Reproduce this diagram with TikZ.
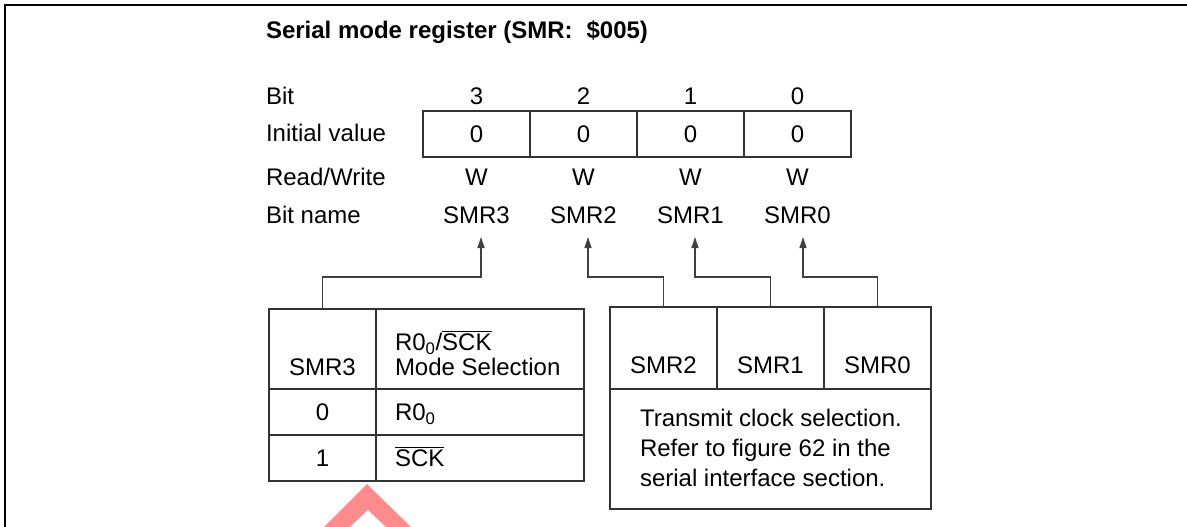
\documentclass[tikz,border=0pt]{standalone}
\usepackage{fontspec}
\setmainfont{Liberation Sans}
\usetikzlibrary{arrows.meta}
\newcommand{\ovl}[1]{\leavevmode\vbox{\hrule height 1pt\kern 1.8pt\hbox{#1}}}
\begin{document}
\begin{tikzpicture}[x=1pt,y=-1pt,
  txt/.style={inner sep=0pt, outer sep=0pt, font=\fontsize{24}{28}\selectfont},
  lbl/.style={txt, anchor=base west},
  ctr/.style={txt, anchor=base},
  cell/.style={draw=black!80, line width=1.3pt, inner sep=0pt, outer sep=0pt, font=\fontsize{24}{28}\selectfont},
  conn/.style={draw=black!75, line width=1.3pt},
  arr/.style={conn, -{Triangle[length=11pt,width=7pt]}},
  frame/.style={draw=black, line width=2pt}]
\useasboundingbox (0,0) rectangle (1187,527);

% watermark
\fill[red!45, even odd rule] (367,484) -- (411,527) -- (324,527) -- cycle
  (368,510) -- (386,527) -- (350,527) -- cycle;

% frame
\draw[frame] (5,527) -- (5,5) -- (1187,5);

% title
\node[lbl, font=\bfseries\fontsize{24}{28}\selectfont] (title) at (266,39) {Serial mode register (SMR:\hspace{0.3em} \$005)};

% row labels
\node[lbl] (lbit) at (266,104.5) {Bit};
\node[lbl] (linit) at (266,141.5) {Initial value};
\node[lbl] (lrw) at (266,185.5) {Read/Write};
\node[lbl] (lname) at (266,223.5) {Bit name};

% register
\foreach \i/\x in {3/476.5,2/583.5,1/690.5,0/797.5}{
  \node[ctr] (b\i) at (\x,104.5) {\i};
  \node[cell, minimum width=107pt, minimum height=46pt] (r\i) at (\x,134) {0};
  \node[ctr] (w\i) at (\x,185.5) {W};
  \node[ctr] (n\i) at (\x,223.5) {SMR\i};
}

% arrow heads positions
\coordinate (a3) at (481,237);
\coordinate (a2) at (588,237);
\coordinate (a1) at (695,237);
\coordinate (a0) at (803,237);

% left table
\node[cell, minimum width=107pt, minimum height=80pt] (Lh1) at (322.5,349) {};
\node[cell, minimum width=208pt, minimum height=80pt] (Lh2) at (480,349) {};
\node[cell, minimum width=107pt, minimum height=46pt] (L01) at (322.5,412) {};
\node[cell, minimum width=208pt, minimum height=46pt] (L02) at (480,412) {};
\node[cell, minimum width=107pt, minimum height=46pt] (L11) at (322.5,458) {};
\node[cell, minimum width=208pt, minimum height=46pt] (L12) at (480,458) {};

\node[ctr] (tSMR3) at (322.5,375.5) {SMR3};
\node[lbl] (tH1) at (395,350.5) {R0\textsubscript{0}/\ovl{SCK}};
\node[lbl] (tH2) at (395,375.5) {Mode Selection};
\node[ctr] (t0) at (322.5,420.5) {0};
\node[lbl] (tR0) at (395,420.5) {R0\textsubscript{0}};
\node[ctr] (t1) at (322.5,466.5) {1};
\node[lbl] (tSCK) at (395,466.5) {\ovl{SCK}};

% right table
\node[cell, minimum width=107pt, minimum height=82pt] (Rh2) at (663.5,348) {};
\node[cell, minimum width=107pt, minimum height=82pt] (Rh1) at (770.5,348) {};
\node[cell, minimum width=107pt, minimum height=82pt] (Rh0) at (877.5,348) {};
\node[cell, minimum width=321pt, minimum height=120pt] (Rd) at (770.5,449) {};

\node[ctr] (tS2) at (663.5,373.5) {SMR2};
\node[ctr] (tS1) at (770.5,373.5) {SMR1};
\node[ctr] (tS0) at (877.5,373.5) {SMR0};
\node[lbl] (d1) at (640,426.5) {Transmit clock selection.};
\node[lbl] (d2) at (640,456.5) {Refer to figure 62 in the};
\node[lbl] (d3) at (640,486.5) {serial interface section.};

% connectors
\draw[arr] (Lh1.north) -- ++(0,-32) -| (a3);
\draw[arr] (Rh2.north) -- ++(0,-30) -| (a2);
\draw[arr] (Rh1.north) -- ++(0,-30) -| (a1);
\draw[arr] (Rh0.north) -- ++(0,-30) -| (a0);
\end{tikzpicture}
\end{document}
